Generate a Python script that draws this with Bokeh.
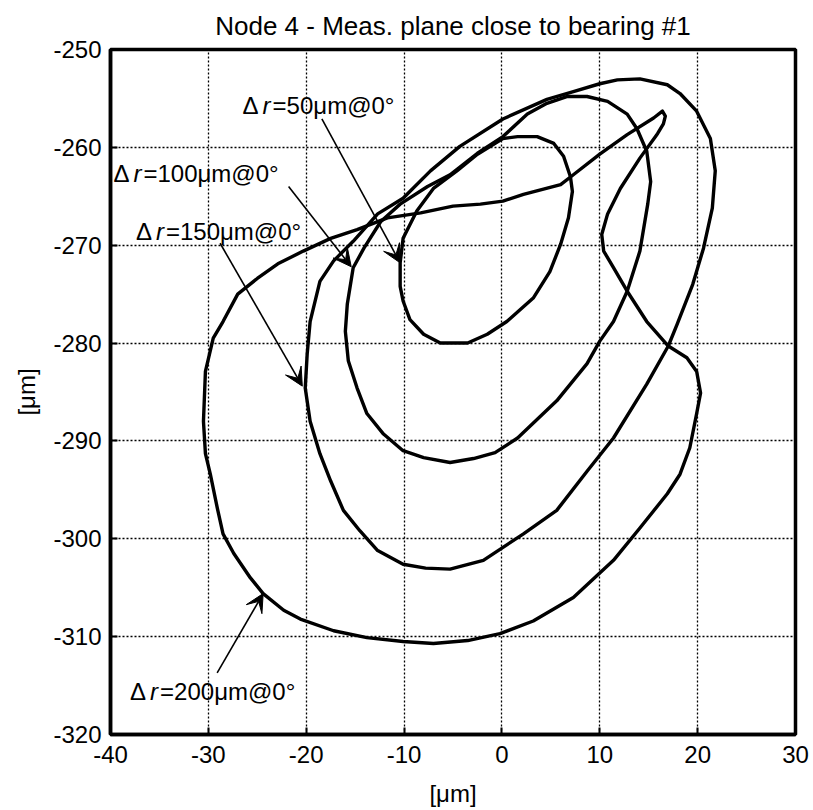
from bokeh.plotting import figure
from bokeh.models import ColumnDataSource, Arrow, VeeHead, FixedTicker, Range1d
from bokeh.core.properties import value
from bokeh.embed import file_html
from bokeh.resources import INLINE

FONT = "Liberation Sans"

title_text = "Node 4 - Meas. plane close to bearing #1"
x_label = "[μm]"
y_label = "[μm]"
x_ticks = [-40, -30, -20, -10, 0, 10, 20, 30]
y_ticks = [-320, -310, -300, -290, -280, -270, -260, -250]

# Shaft orbits at node 4, one per unbalance level (Δr at 0°)
x_50 = [-10.4, -10.4, -10.1, -9.4, -8.0, -6.3, -3.5, -1.5, 0.5, 3.2, 4.9, 6.0, 6.8,
        7.2, 7.0, 6.3, 5.3, 3.6, 1.6, 0.1, -2.5, -4.6, -7.0, -8.7, -10.1]
y_50 = [-271.8, -274.2, -275.7, -277.6, -279.1, -280.0, -280.0, -279.1, -277.8, -275.4,
        -272.7, -269.9, -267.2, -264.5, -263.0, -260.9, -259.6, -258.9, -258.9, -259.1,
        -260.7, -262.4, -264.2, -266.5, -269.3]

x_100 = [-15.2, -15.8, -16.0, -15.7, -14.8, -13.8, -12.1, -10.1, -8.0, -5.3, -2.9, -0.7,
         1.6, 5.6, 8.7, 10.0, 11.4, 12.8, 14.1, 14.9, 15.2, 14.8, 13.8, 12.8, 10.8, 8.7,
         6.7, 4.6, 2.6, 0.1, -2.5, -5.3, -7.6, -10.4, -12.4, -14.1]
y_100 = [-272.3, -276.0, -278.8, -281.8, -284.6, -287.2, -289.3, -291.0, -291.7, -292.2,
         -291.8, -291.2, -289.7, -285.9, -282.1, -279.8, -277.8, -274.7, -270.6, -265.8,
         -263.5, -260.4, -258.1, -256.6, -255.3, -254.8, -254.8, -255.5, -256.6, -258.9,
         -260.6, -262.8, -264.0, -265.8, -267.6, -270.3]

x_150 = [-20.1, -19.6, -18.6, -17.5, -16.2, -14.5, -12.7, -10.1, -7.8, -5.3, -1.9, 2.2,
         5.6, 8.7, 11.4, 14.8, 17.0, 17.9, 19.5, 20.6, 21.5, 21.8, 21.3, 19.9, 18.2, 16.9,
         14.1, 11.8, 10.0, 7.3, 4.6, 0.1, -4.3, -7.3, -10.1, -12.7, -15.2, -17.2, -18.6,
         -19.6, -19.9]
y_150 = [-284.6, -288.0, -291.3, -294.1, -297.1, -299.2, -301.2, -302.6, -303.0, -303.1,
         -302.2, -299.5, -297.1, -293.1, -289.7, -284.2, -280.3, -278.1, -274.0, -270.3,
         -266.2, -262.4, -259.1, -256.3, -254.5, -253.6, -253.0, -253.1, -253.5, -254.3,
         -255.1, -257.1, -259.9, -262.4, -265.2, -266.8, -269.6, -271.6, -273.7, -277.8,
         -281.1]

x_200 = [-24.4, -25.7, -27.4, -28.5, -29.1, -29.8, -30.3, -30.5, -30.3, -29.5, -28.5,
         -27.0, -25.0, -22.9, -20.3, -17.5, -14.8, -11.7, -8.3, -5.0, -2.2, 0.1, 2.2, 6.0,
         7.3, 10.0, 12.8, 15.5, 16.4, 16.7, 16.5, 15.9, 14.1, 12.1, 10.8, 10.2, 10.4, 11.4,
         12.8, 14.8, 17.0, 18.9, 19.9, 20.3, 19.9, 19.2, 18.2, 16.9, 14.1, 11.4, 7.3, 3.2,
         -0.2, -3.5, -7.0, -10.1, -13.8, -17.2, -20.6, -22.3]
y_200 = [-305.6, -304.0, -301.5, -299.5, -296.8, -293.4, -291.3, -288.0, -282.9, -279.5,
         -277.8, -275.0, -273.4, -271.9, -270.6, -269.3, -268.4, -267.2, -266.7, -266.0,
         -265.8, -265.5, -264.8, -263.8, -262.8, -260.7, -258.7, -257.0, -256.3, -256.8,
         -257.6, -258.6, -261.1, -264.2, -266.8, -268.9, -270.6, -272.3, -274.7, -277.8,
         -280.3, -281.5, -282.9, -285.1, -287.2, -290.7, -293.4, -295.4, -298.9, -302.2,
         -306.0, -308.4, -309.7, -310.4, -310.7, -310.5, -310.1, -309.4, -308.2, -307.3]

# Annotations: Δr value, text anchor, arrow tail and arrow tip
label_values = ["50", "100", "150", "200"]
label_x = [-26.5, -39.7, -37.4, -38.0]
label_y = [-255.7, -262.7, -268.6, -315.6]
arrow_x0 = [-18.4, -21.8, -28.8, -29.1]
arrow_y0 = [-257.1, -264.0, -269.8, -313.7]
arrow_x1 = [-10.4, -15.4, -20.4, -24.4]
arrow_y1 = [-271.8, -272.2, -284.4, -305.6]


def closed(seq):
    return list(seq) + [seq[0]]


p = figure(width=813, height=810,
           x_range=Range1d(-40, 30), y_range=Range1d(-320, -250),
           output_backend="svg", toolbar_location=None,
           min_border_left=110, min_border_right=18,
           min_border_top=49, min_border_bottom=76,
           title=title_text, background_fill_color="white",
           border_fill_color="white")

p.title.text_font = FONT
p.title.text_font_size = "26px"
p.title.text_font_style = "normal"
p.title.align = "center"
p.title.text_color = "black"
p.title.standoff = 17

p.outline_line_color = "black"
p.outline_line_width = 3.5

for ax, ticks, lbl in ((p.xaxis, x_ticks, x_label), (p.yaxis, y_ticks, y_label)):
    ax.ticker = FixedTicker(ticks=ticks)
    ax.major_label_overrides = {t: str(t) for t in ticks}
    ax.axis_label = lbl
    ax.axis_label_text_font = FONT
    ax.axis_label_text_font_size = "24px"
    ax.axis_label_text_font_style = "normal"
    ax.axis_label_text_color = "black"
    ax.major_label_text_font = FONT
    ax.major_label_text_font_size = "24px"
    ax.major_label_text_color = "black"
    ax.axis_line_color = "black"
    ax.axis_line_width = 3.5
    ax.major_tick_in = 7
    ax.major_tick_out = 0
    ax.major_tick_line_width = 2
    ax.major_tick_line_color = "black"
    ax.minor_tick_line_color = None

p.xaxis.major_label_standoff = 11
p.xaxis.axis_label_standoff = 14
p.yaxis.major_label_standoff = 9
p.yaxis.axis_label_standoff = 10

for grid in (p.xgrid, p.ygrid):
    grid.grid_line_color = "black"
    grid.grid_line_dash = "2 2"
    grid.grid_line_width = 1.3
    grid.grid_line_alpha = 1.0

for xs, ys in ((x_50, y_50), (x_100, y_100), (x_150, y_150), (x_200, y_200)):
    p.line(closed(xs), closed(ys), line_color="black", line_width=3.4,
           line_join="round", line_cap="round")

arrow_src = ColumnDataSource(dict(x0=arrow_x0, y0=arrow_y0, x1=arrow_x1, y1=arrow_y1))
p.add_layout(Arrow(end=VeeHead(size=18, fill_color="black", line_color="black", line_width=1),
                   x_start="x0", y_start="y0", x_end="x1", y_end="y1",
                   source=arrow_src, line_color="black", line_width=1.6))

label_src = ColumnDataSource(dict(
    x=label_x, y=label_y,
    delta=["Δ"] * len(label_values),
    r=["r"] * len(label_values),
    rest=["=" + v + "μm@0°" for v in label_values],
))
common = dict(source=label_src, text_font=value(FONT), text_font_size=value("24px"),
              text_align="left", text_baseline="middle", text_color="black")
p.text(x="x", y="y", text="delta", x_offset=0, **common)
p.text(x="x", y="y", text="r", x_offset=20, text_font_style=value("italic"), **common)
p.text(x="x", y="y", text="rest", x_offset=30, **common)

open("out.html", "w").write(file_html(p, INLINE))
